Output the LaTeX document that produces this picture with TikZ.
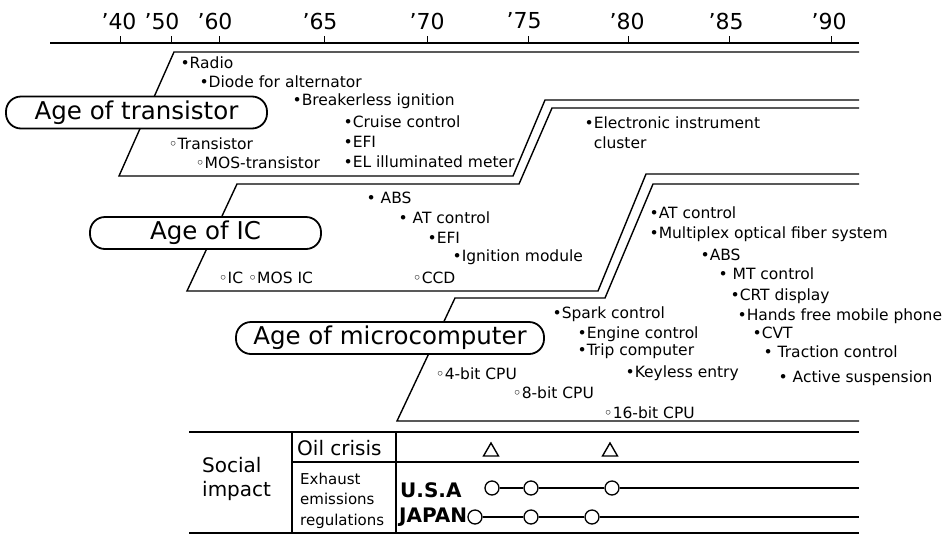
\documentclass[tikz,border=0pt]{standalone}
\usepackage{fontspec}
\setmainfont{DejaVu Sans}
\begin{document}
\begin{tikzpicture}[x=1pt,y=-1pt,
  band/.style={line width=1.4pt, line join=miter},
  agebox/.style={draw, line width=1.8pt, rounded corners=15pt, fill=white,
    minimum height=32pt, inner sep=0, font=\fontsize{24.5}{28}\selectfont},
  yr/.style={inner sep=0, font=\fontsize{22}{26}\selectfont},
  item/.style={anchor=base west, inner sep=0, align=left,
    font=\fontsize{15.5}{20}\selectfont},
  tbl/.style={anchor=base west, inner sep=0, font=\fontsize{20}{24}\selectfont},
  small/.style={anchor=base west, inner sep=0, align=left,
    font=\fontsize{15}{20.5}\selectfont},
  cty/.style={anchor=base west, inner sep=0, font=\fontsize{20}{24}\bfseries\selectfont},
  mk/.style={circle, draw, fill=white, line width=1.3pt, minimum size=14pt, inner sep=0},
  thin/.style={line width=1.4pt},
  thick/.style={line width=2.2pt}]
\useasboundingbox (0,0) rectangle (952,536);

% time axis
\coordinate (axL) at (50,43);
\coordinate (axR) at (859,43);
\draw[line width=1.6pt] (axL) -- (axR);
\foreach \x/\lab/\lx in {120/’40/119, 171/’50/162, 219/’60/215, 324/’65/320,
  427/’70/427, 528/’75/524, 628/’80/627, 729/’85/726, 831/’90/829}{
  \draw[line width=1pt] (\x,43) -- (\x,36);
  \node[yr] (y\x) at (\lx,21) {\lab};
}

% bands
\draw[band] (859,52) -- (174,52) -- (119,176) -- (513,176) -- (545,100) -- (859,100);
\draw[band] (859,108) -- (552,108) -- (519,184) -- (237,184) -- (187,291)
  -- (598,291) -- (646,174) -- (859,174);
\draw[band] (859,184) -- (653,184) -- (605,298) -- (455,298) -- (397,421) -- (859,421);

% age labels
\node[agebox, minimum width=261pt] (agetr) at (136.5,112.5) {Age of transistor};
\node[agebox, minimum width=231pt] (ageic) at (205.5,233) {Age of IC};
\node[agebox, minimum width=308pt] (agemc) at (390,338) {Age of microcomputer};

% transistor age items
\node[item] (i1) at (180.4,68.5) {•Radio};
\node[item] (i2) at (199.4,87.5) {•Diode for alternator};
\node[item] (i3) at (292.4,105.5) {•Breakerless ignition};
\node[item] (i4) at (343.4,127.5) {•Cruise control};
\node[item] (i5) at (343.4,147.5) {•EFI};
\node[item] (i6) at (343.4,167.5) {•EL illuminated meter};
\node[item] (i7) at (168.4,149.5) {◦Transistor};
\node[item] (i8) at (195.4,168.5) {◦MOS-transistor};
\node[item] (i9) at (584.4,148.5) {•Electronic instrument\\\phantom{•}cluster};

% IC age items
\node[item] (j1) at (366.4,203.5) {• ABS};
\node[item] (j2) at (398.4,223.5) {• AT control};
\node[item] (j3) at (427.4,243.5) {•EFI};
\node[item] (j4) at (452.4,261.5) {•Ignition module};
\node[item] (j5) at (218.4,283.5) {◦IC ◦MOS IC};
\node[item] (j6) at (412.4,283.5) {◦CCD};

% microcomputer age items
\node[item] (k1) at (649.4,218.5) {•AT control};
\node[item] (k2) at (649.4,238.5) {•Multiplex optical fiber system};
\node[item] (k3) at (700.4,260.5) {•ABS};
\node[item] (k4) at (718.4,279.5) {• MT control};
\node[item] (k5) at (730.4,300.5) {•CRT display};
\node[item] (k6) at (737.4,320.5) {•Hands free mobile phone};
\node[item] (k7) at (752.4,338.5) {•CVT};
\node[item] (k8) at (763.4,357.5) {• Traction control};
\node[item] (k9) at (778.4,382.5) {• Active suspension};
\node[item] (m1) at (552.4,318.5) {•Spark control};
\node[item] (m2) at (577.4,338.5) {•Engine control};
\node[item] (m3) at (577.4,355.5) {•Trip computer};
\node[item] (m4) at (625.4,377.5) {•Keyless entry};
\node[item] (c1) at (435.4,379.5) {◦4-bit CPU};
\node[item] (c2) at (512.4,398.5) {◦8-bit CPU};
\node[item] (c3) at (603.4,418.5) {◦16-bit CPU};

% social impact table
\draw[thick] (189,432) -- (859,432);
\draw[thick] (189,533) -- (859,533);
\draw[thin] (292,432) -- (292,533);
\draw[thin] (396,432) -- (396,533);
\draw[thin] (292,462) -- (859,462);
\node[tbl] (soc) at (202,472) {Social};
\node[tbl] (imp) at (202,496) {impact};
\node[tbl] (oil) at (297,455) {Oil crisis};
\node[small] (exh) at (300,525) {Exhaust\\emissions\\regulations};
\node[cty] (usa) at (400,497) {U.S.A};
\node[cty] (jpn) at (399,522) {JAPAN};

% oil crisis marks
\draw[thin, line join=miter] (483.5,456) -- (498.5,456) -- (491,443) -- cycle;
\draw[thin, line join=miter] (602.5,456) -- (617.5,456) -- (610,443) -- cycle;

% regulation timelines
\coordinate (uend) at (859,488);
\coordinate (jend) at (859,517);
\node[mk] (u1) at (492,488) {};
\node[mk] (u2) at (531,488) {};
\node[mk] (u3) at (612,488) {};
\node[mk] (p1) at (475,517) {};
\node[mk] (p2) at (531,517) {};
\node[mk] (p3) at (592,517) {};
\draw[thin] (u1) -- (u2);
\draw[thin] (u2) -- (u3);
\draw[thin] (u3) -- (uend);
\draw[thin] (p1) -- (p2);
\draw[thin] (p2) -- (p3);
\draw[thin] (p3) -- (jend);
\end{tikzpicture}
\end{document}
